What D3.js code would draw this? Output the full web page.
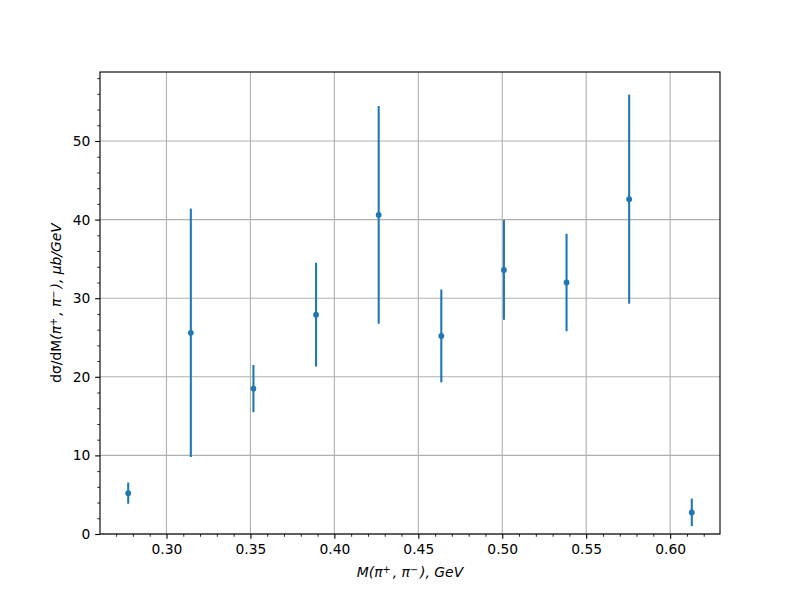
<!DOCTYPE html>
<html><head><meta charset="utf-8">
<script src="https://cdn.jsdelivr.net/npm/d3@7"></script>
<style>body{margin:0;background:#fff}</style>
</head><body>
<svg id="c" width="800" height="600"></svg>
<script>
// Data
const massValues   = [0.2772, 0.3145, 0.3518, 0.3891, 0.4264, 0.4637, 0.5010, 0.5383, 0.5756, 0.6129];
const crossSection = [5.2, 25.6, 18.5, 27.9, 40.6, 25.2, 33.6, 32.0, 42.6, 2.75];
const errors       = [1.35, 15.8, 3.0, 6.6, 13.85, 5.9, 6.35, 6.2, 13.3, 1.75];
const xTickValues  = [0.30, 0.35, 0.40, 0.45, 0.50, 0.55, 0.60];
const yTickValues  = [0, 10, 20, 30, 40, 50];

const svg = d3.select("#c");
const L = 100, R = 720, T = 72, B = 534;
const FONT = "DejaVu Sans, sans-serif";
const FS = 13.89;

const x = d3.scaleLinear().domain([0.2604, 0.6297]).range([L, R]);
const y = d3.scaleLinear().domain([0, 58.78]).range([B, T]);

// grid
const grid = svg.append("g");
grid.selectAll("line.gx").data(xTickValues).join("line")
  .attr("x1", d => x(d)).attr("x2", d => x(d)).attr("y1", T).attr("y2", B)
  .attr("stroke", "#b0b0b0").attr("stroke-width", 1.11);
grid.selectAll("line.gy").data(yTickValues).join("line")
  .attr("x1", L).attr("x2", R).attr("y1", d => y(d)).attr("y2", d => y(d))
  .attr("stroke", "#b0b0b0").attr("stroke-width", 1.11);

// error bars
const col = "#1f77b4";
const pts = massValues.map((m, i) => ({m, v: crossSection[i], e: errors[i]}));
svg.append("g").selectAll("line").data(pts).join("line")
  .attr("x1", d => x(d.m)).attr("x2", d => x(d.m))
  .attr("y1", d => y(d.v - d.e)).attr("y2", d => y(d.v + d.e))
  .attr("stroke", col).attr("stroke-width", 2.08);
svg.append("g").selectAll("circle").data(pts).join("circle")
  .attr("cx", d => x(d.m)).attr("cy", d => y(d.v)).attr("r", 2.9)
  .attr("fill", col);

// axes
const xAxis = d3.axisBottom(x).tickValues(xTickValues).tickFormat(d3.format(".2f"))
  .tickSize(4.86).tickPadding(4.86);
const xMinor = d3.axisBottom(x).tickValues(d3.range(27, 63).map(v => v / 100).filter(v => Math.abs(v * 20 - Math.round(v * 20)) > 1e-6))
  .tickFormat("").tickSize(2.78).tickSizeOuter(0);
const yAxis = d3.axisLeft(y).tickValues(yTickValues).tickFormat(d3.format("d"))
  .tickSize(4.86).tickPadding(4.86);
const yMinor = d3.axisLeft(y).tickValues(d3.range(2, 59, 2).filter(v => v % 10 !== 0))
  .tickFormat("").tickSize(2.78).tickSizeOuter(0);

function style(g, w) {
  g.select(".domain").remove();
  g.selectAll(".tick line").attr("stroke", "#000").attr("stroke-width", w);
  g.selectAll(".tick text").attr("font-family", FONT).attr("font-size", FS).attr("fill", "#000");
}
svg.append("g").attr("transform", `translate(0,${B})`).call(xAxis).call(g => style(g, 1.11));
svg.append("g").attr("transform", `translate(0,${B})`).call(xMinor).call(g => style(g, 0.83));
svg.append("g").attr("transform", `translate(${L},0)`).call(yAxis).call(g => style(g, 1.11));
svg.append("g").attr("transform", `translate(${L},0)`).call(yMinor).call(g => style(g, 0.83));

// frame
svg.append("rect").attr("x", L).attr("y", T).attr("width", R - L).attr("height", B - T)
  .attr("fill", "none").attr("stroke", "#000").attr("stroke-width", 1.11);

// x label
const xl = svg.append("text").attr("x", (L + R) / 2).attr("y", 577)
  .attr("text-anchor", "middle").attr("font-family", FONT).attr("font-size", FS)
  .attr("font-style", "italic");
xl.append("tspan").text("M(π");
xl.append("tspan").attr("baseline-shift", "40%").attr("font-size", FS * 0.7).text("+");
xl.append("tspan").attr("dx", 2).text(", π");
xl.append("tspan").attr("baseline-shift", "40%").attr("font-size", FS * 0.7).text("−");
xl.append("tspan").attr("dx", 2).text("), GeV");

// y label
const yl = svg.append("text").attr("transform", `translate(61,${(T + B) / 2}) rotate(-90)`)
  .attr("text-anchor", "middle").attr("font-family", FONT).attr("font-size", FS);
yl.append("tspan").text("dσ/dM");
yl.append("tspan").attr("font-style", "italic").text("(π");
yl.append("tspan").attr("font-style", "italic").attr("baseline-shift", "40%").attr("font-size", FS * 0.7).text("+");
yl.append("tspan").attr("font-style", "italic").attr("dx", 2).text(", π");
yl.append("tspan").attr("font-style", "italic").attr("baseline-shift", "40%").attr("font-size", FS * 0.7).text("−");
yl.append("tspan").attr("font-style", "italic").attr("dx", 2).text("), μb/GeV");
</script>
</body></html>
